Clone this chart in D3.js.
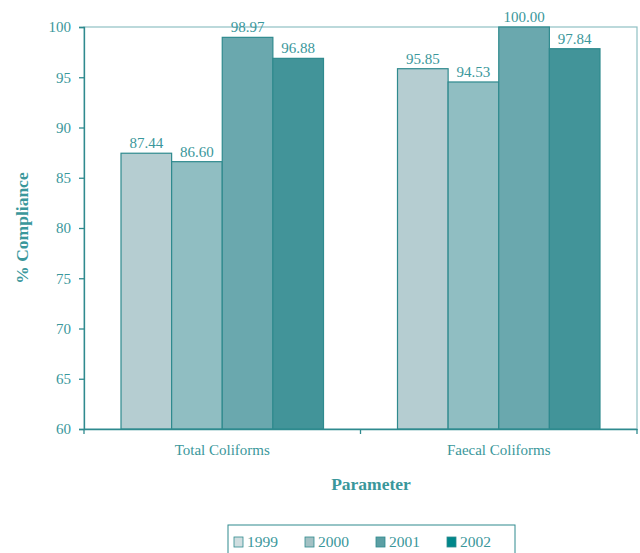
<!DOCTYPE html>
<html>
<head>
<meta charset="utf-8">
<script src="https://cdn.jsdelivr.net/npm/d3@7"></script>
<style>
  body { margin: 0; background: #fff; }
  svg text { font-family: "Liberation Serif", "Times New Roman", serif !important; fill: #3a979b; }
</style>
</head>
<body>
<script>
const categories = ["Total Coliforms", "Faecal Coliforms"];
const years      = ["1999", "2000", "2001", "2002"];
const values     = {
  "1999": [87.44, 95.85],
  "2000": [86.60, 94.53],
  "2001": [98.97, 100.00],
  "2002": [96.88, 97.84]
};
const yTicks = [60, 65, 70, 75, 80, 85, 90, 95, 100];

const barColors    = ["#b5cdd1", "#90bec2", "#6aa8ae", "#429499"];
const legendColors = ["#d0dee0", "#a3c1c4", "#5c9fa4", "#00878b"];
const lineColor = "#2f8a8e";

const margin = {top: 27, right: 3, bottom: 124, left: 84};
const W = 640, H = 553;
const width  = W - margin.left - margin.right;
const height = H - margin.top - margin.bottom;

const svg = d3.select("body").append("svg")
  .attr("width", W).attr("height", H);

const g = svg.append("g")
  .attr("transform", `translate(${margin.left},${margin.top})`);

const x0 = d3.scaleBand().domain(categories).range([0, width]);
const x1 = d3.scaleBand().domain(years).range([37, x0.bandwidth() - 37]);
const y  = d3.scaleLinear().domain([60, 100]).range([height, 0]);

// frame
g.append("rect")
  .attr("x", 0).attr("y", 0)
  .attr("width", width).attr("height", height)
  .attr("fill", "none")
  .attr("stroke", "#8fc0c3")
  .attr("stroke-width", 1.2);

// bars
categories.forEach((c, i) => {
  const grp = g.append("g").attr("transform", `translate(${x0(c)},0)`);
  years.forEach((yr, j) => {
    const v = values[yr][i];
    grp.append("rect")
      .attr("x", x1(yr))
      .attr("y", y(v))
      .attr("width", x1.bandwidth())
      .attr("height", height - y(v))
      .attr("fill", barColors[j])
      .attr("stroke", lineColor)
      .attr("stroke-width", 1.2);
    grp.append("text")
      .attr("x", x1(yr) + x1.bandwidth() / 2)
      .attr("y", y(v) - 5)
      .attr("text-anchor", "middle")
      .attr("font-size", 15)
      .text(v.toFixed(2));
  });
});

// y axis
const yAxis = g.append("g")
  .call(d3.axisLeft(y).tickValues(yTicks).tickSize(5).tickPadding(8));
yAxis.attr("font-family", null);
yAxis.selectAll("path, line").attr("stroke", lineColor).attr("stroke-width", 1.3);
yAxis.selectAll("text").attr("font-size", 15).attr("fill", null);

// x axis
const xAxis = g.append("g")
  .attr("transform", `translate(0,${height})`)
  .call(d3.axisBottom(x0).tickSize(0).tickPadding(15));
xAxis.attr("font-family", null);
xAxis.select("path").attr("stroke", lineColor).attr("stroke-width", 1.3);
xAxis.selectAll("text").attr("font-size", 15).attr("fill", null);
// boundary ticks between categories
[0, x0.bandwidth(), width].forEach(px => {
  xAxis.append("line")
    .attr("x1", px).attr("x2", px).attr("y1", 0).attr("y2", 5)
    .attr("stroke", lineColor).attr("stroke-width", 1.3);
});

// axis titles
svg.append("text")
  .attr("transform", `translate(28,${margin.top + height / 2}) rotate(-90)`)
  .attr("text-anchor", "middle")
  .attr("font-size", 17.5)
  .attr("font-weight", "bold")
  .text("% Compliance");

svg.append("text")
  .attr("x", 371).attr("y", 490)
  .attr("text-anchor", "middle")
  .attr("font-size", 17.5)
  .attr("font-weight", "bold")
  .text("Parameter");

// legend
const legend = svg.append("g").attr("transform", "translate(228,525)");
legend.append("rect")
  .attr("x", 0).attr("y", 0).attr("width", 287).attr("height", 40)
  .attr("fill", "none").attr("stroke", lineColor).attr("stroke-width", 1);
years.forEach((yr, j) => {
  const it = legend.append("g").attr("transform", `translate(${6 + j * 71},0)`);
  it.append("rect")
    .attr("x", 0).attr("y", 12).attr("width", 9).attr("height", 10)
    .attr("fill", legendColors[j]).attr("stroke", lineColor).attr("stroke-width", 0.8);
  it.append("text")
    .attr("x", 13).attr("y", 22)
    .attr("font-size", 15.5)
    .text(yr);
});
</script>
</body>
</html>
